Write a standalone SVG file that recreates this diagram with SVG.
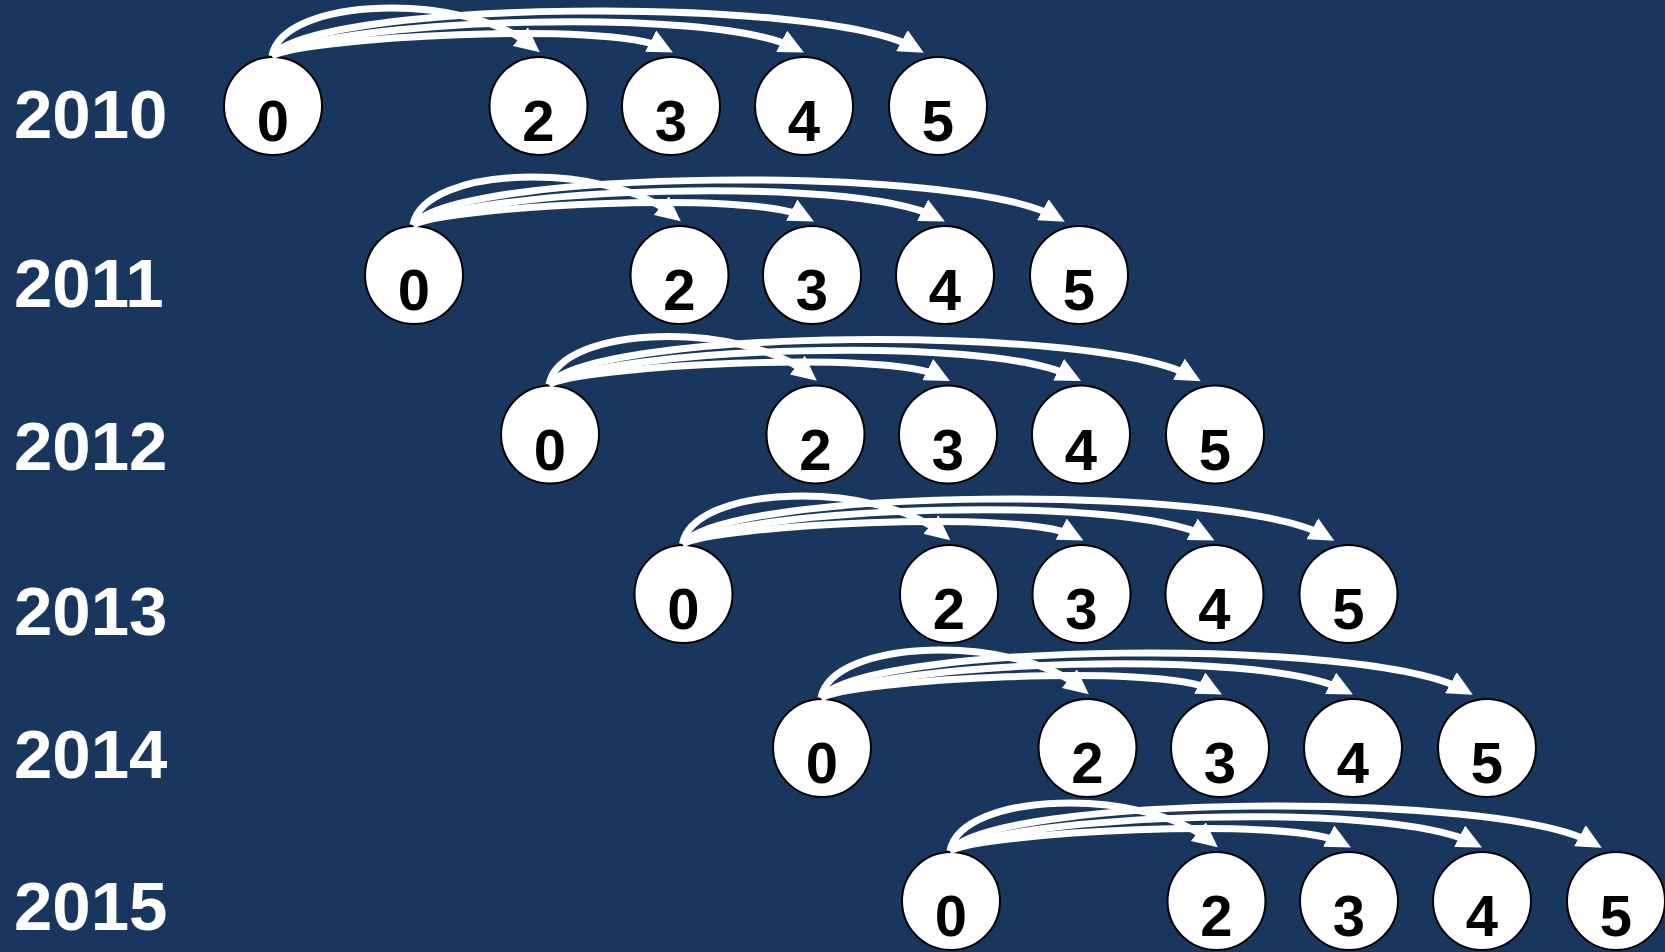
<svg xmlns="http://www.w3.org/2000/svg" width="1665" height="952" viewBox="0 0 1665 952">
<style>
.bg{fill:#19375E}
.yr{font-family:"Liberation Sans",Arial,sans-serif;font-weight:bold;font-size:69px;fill:#fff}
.nd circle{fill:#fff;stroke:#000;stroke-width:2}
.nd text{font-family:"Liberation Sans",Arial,sans-serif;font-weight:bold;font-size:58px;fill:#000;text-anchor:middle}
.arc{fill:none;stroke:#fff;stroke-width:7;marker-end:url(#ah)}
</style>
<defs>
<marker id="ah" markerUnits="userSpaceOnUse" markerWidth="26" markerHeight="24" viewBox="0 0 26 24" refX="15" refY="12" orient="auto"><path d="M0,0 L25,12 L0,24 z" fill="#fff"/></marker>
</defs>
<rect class="bg" x="0" y="0" width="1665" height="952"/>
<g id="labels">
<text class="yr" x="14" y="138">2010</text>
<text class="yr" x="14" y="307">2011</text>
<text class="yr" x="14" y="470">2012</text>
<text class="yr" x="14" y="635">2013</text>
<text class="yr" x="14" y="778">2014</text>
<text class="yr" x="14" y="930">2015</text>
</g>
<g id="nodes">
<g id="n2010-0" class="nd"><circle cx="273" cy="106" r="49"/><text x="273" y="141">0</text></g>
<g id="n2010-2" class="nd"><circle cx="538.5" cy="106" r="49"/><text x="538.5" y="141">2</text></g>
<g id="n2010-3" class="nd"><circle cx="671" cy="106" r="49"/><text x="671" y="141">3</text></g>
<g id="n2010-4" class="nd"><circle cx="804" cy="106" r="49"/><text x="804" y="141">4</text></g>
<g id="n2010-5" class="nd"><circle cx="938" cy="106" r="49"/><text x="938" y="141">5</text></g>

<g id="n2011-0" class="nd"><circle cx="414" cy="275" r="49"/><text x="414" y="310">0</text></g>
<g id="n2011-2" class="nd"><circle cx="679.5" cy="275" r="49"/><text x="679.5" y="310">2</text></g>
<g id="n2011-3" class="nd"><circle cx="812" cy="275" r="49"/><text x="812" y="310">3</text></g>
<g id="n2011-4" class="nd"><circle cx="945" cy="275" r="49"/><text x="945" y="310">4</text></g>
<g id="n2011-5" class="nd"><circle cx="1079" cy="275" r="49"/><text x="1079" y="310">5</text></g>

<g id="n2012-0" class="nd"><circle cx="550" cy="434.5" r="49"/><text x="550" y="469.5">0</text></g>
<g id="n2012-2" class="nd"><circle cx="815.5" cy="434.5" r="49"/><text x="815.5" y="469.5">2</text></g>
<g id="n2012-3" class="nd"><circle cx="948" cy="434.5" r="49"/><text x="948" y="469.5">3</text></g>
<g id="n2012-4" class="nd"><circle cx="1081" cy="434.5" r="49"/><text x="1081" y="469.5">4</text></g>
<g id="n2012-5" class="nd"><circle cx="1215" cy="434.5" r="49"/><text x="1215" y="469.5">5</text></g>

<g id="n2013-0" class="nd"><circle cx="683.5" cy="594" r="49"/><text x="683.5" y="629">0</text></g>
<g id="n2013-2" class="nd"><circle cx="949" cy="594" r="49"/><text x="949" y="629">2</text></g>
<g id="n2013-3" class="nd"><circle cx="1081.5" cy="594" r="49"/><text x="1081.5" y="629">3</text></g>
<g id="n2013-4" class="nd"><circle cx="1214.5" cy="594" r="49"/><text x="1214.5" y="629">4</text></g>
<g id="n2013-5" class="nd"><circle cx="1348.5" cy="594" r="49"/><text x="1348.5" y="629">5</text></g>

<g id="n2014-0" class="nd"><circle cx="822" cy="748" r="49"/><text x="822" y="783">0</text></g>
<g id="n2014-2" class="nd"><circle cx="1087.5" cy="748" r="49"/><text x="1087.5" y="783">2</text></g>
<g id="n2014-3" class="nd"><circle cx="1220" cy="748" r="49"/><text x="1220" y="783">3</text></g>
<g id="n2014-4" class="nd"><circle cx="1353" cy="748" r="49"/><text x="1353" y="783">4</text></g>
<g id="n2014-5" class="nd"><circle cx="1487" cy="748" r="49"/><text x="1487" y="783">5</text></g>

<g id="n2015-0" class="nd"><circle cx="951" cy="901" r="49"/><text x="951" y="936">0</text></g>
<g id="n2015-2" class="nd"><circle cx="1216.5" cy="901" r="49"/><text x="1216.5" y="936">2</text></g>
<g id="n2015-3" class="nd"><circle cx="1349" cy="901" r="49"/><text x="1349" y="936">3</text></g>
<g id="n2015-4" class="nd"><circle cx="1482" cy="901" r="49"/><text x="1482" y="936">4</text></g>
<g id="n2015-5" class="nd"><circle cx="1616" cy="901" r="49"/><text x="1616" y="936">5</text></g>
</g>
<g id="connectors">
<g id="e2010">
<path class="arc" d="M272,56 C283,-4 465,-8 532,46"/>
<path class="arc" d="M272,56 C300,38 610,20 664,48"/>
<path class="arc" d="M272,56 C330,20 710,5 795,48"/>
<path class="arc" d="M272,56 C315,0 820,-5 915,48"/>
</g>
<g id="e2011" transform="translate(141,169)">
<path class="arc" d="M272,56 C283,-4 465,-8 532,46"/>
<path class="arc" d="M272,56 C300,38 610,20 664,48"/>
<path class="arc" d="M272,56 C330,20 710,5 795,48"/>
<path class="arc" d="M272,56 C315,0 820,-5 915,48"/>
</g>
<g id="e2012" transform="translate(277,328.5)">
<path class="arc" d="M272,56 C283,-4 465,-8 532,46"/>
<path class="arc" d="M272,56 C300,38 610,20 664,48"/>
<path class="arc" d="M272,56 C330,20 710,5 795,48"/>
<path class="arc" d="M272,56 C315,0 820,-5 915,48"/>
</g>
<g id="e2013" transform="translate(410.5,488)">
<path class="arc" d="M272,56 C283,-4 465,-8 532,46"/>
<path class="arc" d="M272,56 C300,38 610,20 664,48"/>
<path class="arc" d="M272,56 C330,20 710,5 795,48"/>
<path class="arc" d="M272,56 C315,0 820,-5 915,48"/>
</g>
<g id="e2014" transform="translate(549,642)">
<path class="arc" d="M272,56 C283,-4 465,-8 532,46"/>
<path class="arc" d="M272,56 C300,38 610,20 664,48"/>
<path class="arc" d="M272,56 C330,20 710,5 795,48"/>
<path class="arc" d="M272,56 C315,0 820,-5 915,48"/>
</g>
<g id="e2015" transform="translate(678,795)">
<path class="arc" d="M272,56 C283,-4 465,-8 532,46"/>
<path class="arc" d="M272,56 C300,38 610,20 664,48"/>
<path class="arc" d="M272,56 C330,20 710,5 795,48"/>
<path class="arc" d="M272,56 C315,0 820,-5 915,48"/>
</g>
</g>
</svg>
